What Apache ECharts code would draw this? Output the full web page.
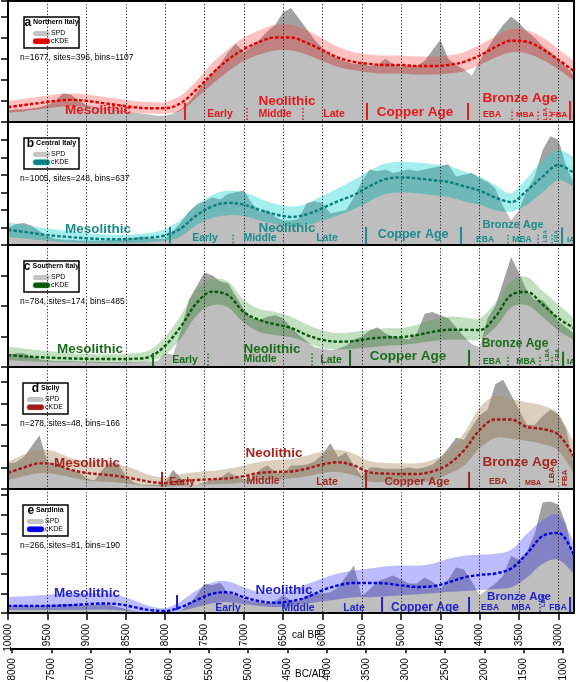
<!DOCTYPE html>
<html><head><meta charset="utf-8">
<script src="https://cdn.jsdelivr.net/npm/echarts@6/dist/echarts.min.js"></script>
<style>html,body{margin:0;padding:0;background:#fff}#c{width:576px;height:682px}</style>
</head><body><div id="c"></div>
<script>
// ---------- DATA ----------
const bp100 = [10000,9900,9800,9700,9600,9500,9400,9300,9200,9100,9000,8900,8800,8700,8600,8500,8400,8300,8200,8100,8000,7900,7800,7700,7600,7500,7400,7300,7200,7100,7000,6900,6800,6700,6600,6500,6400,6300,6200,6100,6000,5900,5800,5700,5600,5500,5400,5300,5200,5100,5000,4900,4800,4700,4600,4500,4400,4300,4200,4100,4000,3900,3800,3700,3600,3500,3400,3300,3200,3100,3000,2900,2800];
const bp200 = [10000,9800,9600,9400,9200,9000,8800,8600,8400,8200,8000,7800,7600,7400,7200,7000,6800,6600,6400,6200,6000,5800,5600,5400,5200,5000,4800,4600,4400,4200,4000,3800,3600,3400,3200,3000,2800];

// a Northern Italy
const spdA = [0.55,0.6,0.6,0.65,0.7,0.8,1.0,1.35,1.3,1.0, 0.8,0.7,0.65,0.6,0.55,0.5,0.45,0.4,0.35,0.3, 0.3,0.4,0.6,0.95,1.4,1.9,2.3,2.75,3.3,3.7, 3.3,3.6,3.9,4.3,4.6,5.2,5.4,4.9,4.4,3.9, 3.5,3.2,3.0,2.85,2.75,2.8,2.65,2.7,3.0,2.75, 2.6,2.7,2.65,2.9,3.4,3.9,3.0,2.7,2.5,2.2, 2.9,3.5,4.1,4.6,5.0,4.7,4.3,4.0,3.6,3.3, 3.0,2.6,2.2];
const meanA = [0.7,0.8,0.9,1.0,1.05,1.0,0.9,0.8,0.7,0.65, 0.65,0.9,1.55,2.3,2.95,3.45,3.8,4.0,4.0,3.75, 3.4,3.05,2.85,2.75,2.7,2.7,2.65,2.65,2.7,2.85, 3.15,3.55,3.85,3.8,3.45,2.95,2.4];
const loA = [0.45,0.5,0.6,0.7,0.75,0.7,0.6,0.5,0.45,0.4, 0.4,0.55,1.15,1.8,2.4,2.9,3.2,3.4,3.4,3.2, 2.9,2.6,2.45,2.35,2.3,2.3,2.25,2.25,2.3,2.4, 2.7,3.05,3.3,3.25,2.95,2.5,1.95];
const hiA = [1.0,1.1,1.2,1.3,1.35,1.3,1.2,1.1,1.0,0.95, 0.95,1.25,1.95,2.8,3.45,4.0,4.35,4.6,4.6,4.35, 3.95,3.55,3.3,3.2,3.15,3.15,3.1,3.1,3.15,3.3, 3.65,4.05,4.4,4.35,4.0,3.45,2.9];

// b Central Italy
const spdB = [1.0,1.2,1.25,1.1,0.8,0.5,0.35,0.3,0.3,0.25, 0.25,0.25,0.25,0.3,0.3,0.35,0.4,0.5,0.4,0.35, 0.35,0.8,1.3,1.9,2.3,2.5,2.7,2.6,2.9,3.0, 3.1,2.4,1.9,2.0,1.6,1.4,1.4,1.5,2.4,2.5, 2.4,1.8,1.9,2.0,2.7,3.6,4.3,4.2,4.3,4.1, 4.2,4.3,4.2,4.3,4.4,4.5,4.6,3.9,4.0,4.1, 3.8,3.6,3.2,2.2,1.4,2.0,3.1,3.9,5.4,6.2, 6.0,4.5,3.5];
const meanB = [0.86,0.75,0.62,0.52,0.45,0.38,0.34,0.33,0.35,0.42, 0.55,0.95,1.7,2.2,2.4,2.3,2.0,1.75,1.6,1.75, 2.1,2.5,2.85,3.35,3.75,3.85,3.8,3.7,3.6,3.35, 3.1,2.7,2.45,3.1,3.9,4.55,4.1];
const loB = [0.46,0.38,0.28,0.2,0.15,0.12,0.1,0.1,0.12,0.16, 0.25,0.5,1.15,1.55,1.7,1.65,1.4,1.2,1.05,1.15, 1.4,1.7,2.05,2.5,2.9,3.0,2.95,2.85,2.75,2.5, 2.3,2.0,1.9,2.3,3.0,3.7,3.3];
const hiB = [1.3,1.15,1.0,0.88,0.78,0.68,0.6,0.58,0.6,0.7, 0.9,1.45,2.3,2.85,3.1,3.0,2.65,2.35,2.2,2.35, 2.8,3.25,3.7,4.25,4.65,4.75,4.7,4.6,4.5,4.2, 3.9,3.4,2.95,3.8,4.8,5.4,5.0];

// c Southern Italy
const spdC = [0.4,0.45,0.45,0.35,0.25,0.22,0.2,0.2,0.2,0.18, 0.18,0.17,0.16,0.16,0.16,0.16,0.16,0.17,0.18,0.2, 0.45,0.4,1.2,2.2,2.65,3.1,3.0,2.8,2.75,2.3, 1.9,1.6,1.55,1.65,1.7,1.6,1.3,1.05,0.85,0.65, 0.6,0.55,0.6,0.7,0.9,1.0,1.2,1.3,1.1,1.0, 0.95,0.9,1.1,1.75,1.8,1.7,1.6,1.3,1.0,0.75, 0.65,1.6,2.0,2.8,3.6,3.1,2.5,2.2,2.2,1.9, 1.5,1.3,1.1];
const meanC = [0.39,0.35,0.32,0.3,0.28,0.27,0.26,0.26,0.27,0.33, 0.7,1.33,2.1,2.47,2.35,1.8,1.54,1.4,1.28,1.05, 0.89,0.83,0.85,0.93,0.97,0.98,1.05,1.15,1.22,1.22, 1.21,1.65,2.36,2.46,2.05,1.6,1.28];
const loC = [0.23,0.2,0.18,0.17,0.16,0.15,0.14,0.14,0.15,0.2, 0.4,0.95,1.7,2.03,1.95,1.45,1.15,1.05,0.98,0.8, 0.62,0.58,0.6,0.65,0.7,0.72,0.78,0.85,0.9,0.9, 0.9,1.3,1.95,2.03,1.65,1.2,0.89];
const hiC = [0.66,0.6,0.55,0.5,0.45,0.43,0.42,0.42,0.45,0.55, 1.0,1.7,2.55,2.88,2.8,2.2,1.9,1.8,1.65,1.4, 1.2,1.12,1.15,1.22,1.27,1.28,1.38,1.55,1.65,1.62, 1.6,2.1,2.8,2.95,2.5,2.05,1.6];

// d Sicily
const spdD = [1.2,1.25,1.5,2.0,2.5,1.3,1.1,1.0,0.9,0.8, 0.5,0.4,0.9,1.25,1.2,0.6,0.3,0.2,0.2,0.2, 0.3,0.9,0.5,0.2,0.2,0.3,0.45,0.5,0.8,0.6, 0.45,0.45,0.9,1.1,0.8,0.7,1.1,1.1,1.15,1.3, 1.6,2.15,1.5,1.7,1.1,0.6,1.0,1.0,0.95,0.95, 0.95,1.0,0.95,1.0,1.15,1.45,1.9,2.4,2.3,2.9, 3.45,3.7,4.9,5.1,4.4,3.7,3.0,3.0,3.4,3.7, 3.5,2.8,1.1];
const meanD = [0.75,1.0,1.2,1.15,0.9,0.75,0.68,0.6,0.48,0.34, 0.28,0.36,0.42,0.46,0.5,0.6,0.75,0.8,0.82,0.95, 1.15,1.25,1.1,0.78,0.72,0.7,0.7,0.82,1.15,1.8, 2.76,3.25,3.25,2.9,2.8,2.55,1.5];
const loD = [0.42,0.6,0.75,0.7,0.55,0.4,0.35,0.3,0.22,0.14, 0.12,0.15,0.2,0.22,0.25,0.3,0.42,0.45,0.5,0.6, 0.75,0.8,0.65,0.35,0.33,0.33,0.33,0.4,0.7,1.1, 1.92,2.4,2.35,2.25,2.1,1.8,0.75];
const hiD = [1.27,1.6,1.85,1.75,1.45,1.3,1.25,1.15,0.95,0.65, 0.55,0.7,0.8,0.85,0.95,1.1,1.27,1.35,1.4,1.55, 1.75,1.83,1.65,1.3,1.22,1.2,1.2,1.35,1.75,2.6, 3.8,4.35,4.2,4.05,3.9,3.5,2.15];

// e Sardinia
const spdE = [0.35,0.4,0.4,0.35,0.35,0.4,0.4,0.45,0.45,0.4, 0.4,0.4,0.45,0.4,0.3,0.2,0.1,0.05,0.05,0.05, 0.05,0.05,0.1,0.45,0.9,1.5,1.4,1.55,1.0,0.9, 0.7,0.6,0.55,0.5,0.6,0.9,0.65,0.6,0.9,1.0, 1.0,1.05,1.3,1.85,2.4,0.85,1.2,1.6,1.75,1.9, 1.7,1.5,1.5,1.8,1.6,1.2,1.7,2.3,2.2,1.6, 0.9,1.2,1.5,1.9,2.9,2.7,3.1,4.0,5.6,5.65, 5.5,4.5,2.6];
const meanE = [0.36,0.36,0.36,0.37,0.4,0.45,0.48,0.45,0.3,0.15, 0.1,0.3,0.65,0.98,1.05,0.8,0.6,0.52,0.6,0.8, 1.15,1.4,1.52,1.52,1.5,1.4,1.32,1.35,1.55,1.8, 1.93,2.0,2.25,3.0,3.9,4.06,2.9];
const loE = [0.15,0.15,0.15,0.15,0.15,0.17,0.18,0.15,0.08,0.03, 0.02,0.1,0.3,0.5,0.55,0.45,0.35,0.3,0.35,0.5, 0.6,0.7,0.8,0.8,0.85,0.9,0.95,1.0,1.07,1.12, 1.17,1.22,1.3,1.8,2.5,2.7,2.0];
const hiE = [0.81,0.85,0.9,0.95,1.0,1.0,1.0,0.9,0.65,0.35, 0.25,0.6,1.15,1.55,1.6,1.3,1.05,1.0,1.15,1.45, 1.75,2.0,2.15,2.25,2.35,2.4,2.4,2.5,2.75,2.9, 2.95,3.0,3.2,4.0,4.7,4.95,3.6];

// ---------- ANNOTATIONS (period names: text, cal BP, height, size, rotated) ----------
const labelsA = [['Mesolithic',8855,0.57,13.5,0],['Early',7303,0.38,10.5,0],['Neolithic',6450,1.0,13.5,0],['Middle',6603,0.38,10.5,0],['Late',5852,0.38,10.5,0],['Copper Age',4822,0.48,13.5,0],['Bronze Age',3486,1.1,13.5,0],['EBA',3842,0.33,8.5,0],['MBA',3422,0.33,8,0],['LBA',3168,0.38,6,1],['FBA',2990,0.33,8,0]];
const barsA = [[7748,0.1,0.9],[5433,0.1,0.9],[4148,0.1,0.9],[2850,0.1,1.0]];
const sepsA = [[6959,0.1,0.75],[6247,0.1,0.75],[3588,0.1,0.6],[3257,0.1,0.6],[3104,0.1,0.6]];
const labelsB = [['Mesolithic',8855,0.91,13.5,0],['Early',7494,0.4,10.5,0],['Middle',6794,0.4,10.5,0],['Neolithic',6450,0.97,13.5,0],['Late',5942,0.4,10.5,0],['Copper Age',4847,0.57,12.5,0],['Bronze Age',3575,1.14,11,0],['EBA',3931,0.29,8.5,0],['MBA',3461,0.29,8.5,0],['LBA',3168,0.5,6,1],['FBA',3028,0.5,6,1],['IA',2837,0.29,8,0]];
const barsB = [[7939,0.1,1.03],[5445,0,1.03],[4237,0,1.03],[2952,0,1.0]];
const sepsB = [[7137,0.1,0.7],[3639,0.1,0.6],[3257,0.1,0.6],[3079,0.1,0.6]];
const labelsC = [['Mesolithic',8957,0.59,13.5,0],['Early',7748,0.23,10.5,0],['Neolithic',6641,0.59,13.5,0],['Middle',6794,0.26,10.5,0],['Late',5891,0.23,10.5,0],['Copper Age',4911,0.36,13.5,0],['Bronze Age',3550,0.75,12,0],['EBA',3842,0.16,8.5,0],['MBA',3410,0.16,8.5,0],['LBA',3142,0.39,6,1],['FBA',3015,0.39,6,1],['IA',2837,0.16,8,0]];
const barsC = [[8155,0,0.46],[5649,0,0.56],[4135,0,0.56],[2939,0,0.5]];
const sepsC = [[7455,0.05,0.45],[6132,0.05,0.45],[3639,0.05,0.4],[3232,0.05,0.4],[3079,0.05,0.4]];
const labelsD = [['Mesolithic',8995,1.22,13.5,0],['Early',7786,0.33,10.5,0],['Neolithic',6616,1.69,13.5,0],['Middle',6756,0.38,10.5,0],['Late',5942,0.33,10.5,0],['Copper Age',4796,0.33,11.5,0],['Bronze Age',3486,1.27,13.5,0],['EBA',3766,0.33,8.5,0],['MBA',3321,0.28,7,0],['LBA',3079,0.66,8,1],['FBA',2913,0.52,8,1]];
const barsD = [[8041,0.1,0.8],[5445,0,0.8],[4135,0,0.8]];
const sepsD = [];
const labelsE = [['Mesolithic',8995,1.02,13.5,0],['Early',7201,0.25,10.5,0],['Neolithic',6489,1.17,13.5,0],['Middle',6310,0.25,10.5,0],['Late',5598,0.25,10.5,0],['Copper Age',4695,0.25,12,0],['Bronze Age',3499,0.81,11.5,0],['EBA',3868,0.25,8.5,0],['MBA',3473,0.25,8.5,0],['LBA',3193,0.61,6,1],['FBA',3003,0.25,8.5,0]];
const barsE = [[7850,0.15,0.91],[5242,0,0.81],[4135,0,0.81],[2850,0,0.81]];
const sepsE = [[3232,0.05,0.6]];

// ---------- LAYOUT / STYLE ----------
const FONT = '"Liberation Sans", Arial, Helvetica, sans-serif';
const panels = [
 {top:1,   height:121, ymax:5.73, spd:spdA, lo:loA, hi:hiA, mean:meanA, line:'#e00000', band:'rgba(255,60,60,0.32)', txt:'#e3191c', letter:'a', region:'Northern Italy', stats:'n=1677, sites=396, bins=1107', boxW:55, labels:labelsA, bars:barsA, seps:sepsA},
 {top:122, height:123, ymax:7.01, spd:spdB, lo:loB, hi:hiB, mean:meanB, line:'#0d7d7d', band:'rgba(40,215,215,0.42)', txt:'#1c8c8c', letter:'b', region:'Central Italy', stats:'n=1005, sites=248, bins=637', boxW:55, labels:labelsB, bars:barsB, seps:sepsB},
 {top:245, height:122, ymax:4.0,  spd:spdC, lo:loC, hi:hiC, mean:meanC, line:'#0b570b', band:'rgba(80,170,80,0.36)', txt:'#1a6e1a', letter:'c', region:'Southern Italy', stats:'n=784, sites=174, bins=485', boxW:55, labels:labelsC, bars:barsC, seps:sepsC},
 {top:367, height:122, ymax:5.7,  spd:spdD, lo:loD, hi:hiD, mean:meanD, line:'#a11a1a', band:'rgba(175,140,100,0.42)', txt:'#a3261f', letter:'d', region:'Sicily', stats:'n=278, sites=48, bins=166', boxW:45, labels:labelsD, bars:barsD, seps:sepsD},
 {top:489, height:124, ymax:6.28, spd:spdE, lo:loE, hi:hiE, mean:meanE, line:'#0000e0', band:'rgba(80,80,255,0.38)', txt:'#2222cc', letter:'e', region:'Sardinia', stats:'n=266, sites=81, bins=190', boxW:45, labels:labelsE, bars:barsE, seps:sepsE}
];

// Catmull-Rom curve through pixel points (drawing helper only)
function crPath(pts) {
  let s = '';
  for (let i = 0; i < pts.length - 1; i++) {
    const p0 = pts[i - 1] || pts[i], p1 = pts[i], p2 = pts[i + 1], p3 = pts[i + 2] || pts[i + 1];
    const c1x = p1[0] + (p2[0] - p0[0]) / 6, c1y = p1[1] + (p2[1] - p0[1]) / 6;
    const c2x = p2[0] - (p3[0] - p1[0]) / 6, c2y = p2[1] - (p3[1] - p1[1]) / 6;
    s += 'C' + c1x.toFixed(2) + ',' + c1y.toFixed(2) + ' ' + c2x.toFixed(2) + ',' + c2y.toFixed(2) + ' ' + p2[0].toFixed(2) + ',' + p2[1].toFixed(2);
  }
  return s;
}

const grid = [], xAxis = [], yAxis = [], series = [], graphic = [];
panels.forEach((p, i) => {
  const last = i === panels.length - 1;
  grid.push({left:8, right:2, top:p.top, height:p.height, show:true, borderColor:'#000', borderWidth:2, z:10});
  xAxis.push({gridIndex:i, type:'value', min:-10000, max:-2800, interval:500, z:3,
    axisLine:{show:true, lineStyle:{color:'#000', width:2}},
    axisTick:{show:last, length:7, lineStyle:{color:'#000', width:1.5}},
    axisLabel:{show:last, rotate:90, margin:11, fontSize:10, color:'#000', fontFamily:FONT, showMaxLabel:false, formatter:v => String(-v)},
    splitLine:{show:true, lineStyle:{color:'#222', width:1, type:[1.2,2]}}});
  yAxis.push({gridIndex:i, type:'value', min:0, max:p.ymax, interval:1,
    axisLine:{show:true, lineStyle:{color:'#000', width:2}},
    axisTick:{show:true, inside:false, length:7, lineStyle:{color:'#000', width:1.5}},
    axisLabel:{show:false}, splitLine:{show:false}});
  // SPD
  series.push({type:'line', xAxisIndex:i, yAxisIndex:i, z:1, silent:true, showSymbol:false, symbol:'none',
    data: bp100.map((b, k) => [-b, p.spd[k]]),
    lineStyle:{width:0, opacity:0}, areaStyle:{color:'#a2a2a2', opacity:1}});
  // cKDE envelope (and lighter SPD below the envelope)
  series.push({type:'custom', xAxisIndex:i, yAxisIndex:i, z:2, silent:true, clip:true,
    data: bp200.map((b, k) => [-b, p.lo[k], p.hi[k]]),
    encode:{x:0, y:[1, 2]},
    renderItem:(params, api) => {
      if (params.dataIndex !== 0) return null;
      const up = bp200.map((b, k) => api.coord([-b, p.hi[k]]));
      const dn = bp200.map((b, k) => api.coord([-b, p.lo[k]]));
      const b0 = api.coord([-10000, 0]), b1 = api.coord([-2800, 0]);
      const dr = dn.slice().reverse();
      const band = 'M' + up[0][0] + ',' + up[0][1] + crPath(up) + 'L' + dr[0][0] + ',' + dr[0][1] + crPath(dr) + 'Z';
      const low = 'M' + dn[0][0] + ',' + dn[0][1] + crPath(dn) + 'L' + b1[0] + ',' + b1[1] + 'L' + b0[0] + ',' + b0[1] + 'Z';
      return {type:'group', children:[
        {type:'path', shape:{pathData:low}, style:{fill:'rgba(255,255,255,0.3)'}},
        {type:'path', shape:{pathData:band}, style:{fill:p.band}}
      ]};
    }});
  // mean cKDE
  series.push({type:'line', xAxisIndex:i, yAxisIndex:i, z:4, silent:true, showSymbol:false, symbol:'none', smooth:0.35,
    data: bp200.map((b, k) => [-b, p.mean[k]]),
    lineStyle:{color:p.line, width:2.4, type:[3.5,2]}});
  // period annotations
  series.push({type:'custom', xAxisIndex:i, yAxisIndex:i, z:6, silent:true, clip:false,
    data:[[-6000, 1]],
    renderItem:(params, api) => {
      const ch = [];
      p.labels.forEach(([t, bp, v, s, r]) => {
        const c = api.coord([-bp, v]);
        ch.push({type:'text', x:c[0], y:c[1], rotation: r ? Math.PI/2 : 0,
          style:{text:t, fill:p.txt, font:'bold ' + s + 'px ' + FONT, align:'center', verticalAlign:'middle'}});
      });
      p.bars.forEach(([bp, v0, v1]) => {
        const a = api.coord([-bp, v0]), b = api.coord([-bp, v1]);
        ch.push({type:'line', shape:{x1:a[0], y1:a[1], x2:b[0], y2:b[1]}, style:{stroke:p.txt, lineWidth:2}});
      });
      p.seps.forEach(([bp, v0, v1]) => {
        const a = api.coord([-bp, v0]), b = api.coord([-bp, v1]);
        ch.push({type:'line', shape:{x1:a[0], y1:a[1], x2:b[0], y2:b[1]}, style:{stroke:p.txt, lineWidth:1.5, lineDash:[1.5,2]}});
      });
      return {type:'group', children:ch};
    }});
  // legend box
  const sx = p.boxW > 50 ? 9 : 4;
  graphic.push({type:'group', x:p.boxW > 50 ? 24 : 23, y:p.top + 16, z:20, children:[
    {type:'rect', shape:{x:0, y:0, width:p.boxW, height:31}, style:{fill:'#fff', stroke:'#000', lineWidth:1.5}},
    {type:'text', x:p.boxW/2, y:5.5, style:{text:'{l|' + p.letter + '}{n| ' + p.region + '}', align:'center', verticalAlign:'middle',
      rich:{l:{font:'bold 12px ' + FONT, fill:'#000'}, n:{font:'bold 7px ' + FONT, fill:'#000'}}}},
    {type:'rect', shape:{x:sx, y:14, width:17, height:5, r:2.5}, style:{fill:'#c4c4c4'}},
    {type:'text', x:sx + 18, y:16.5, style:{text:'SPD', font:'7px ' + FONT, fill:'#000', verticalAlign:'middle'}},
    {type:'rect', shape:{x:sx, y:21.5, width:17, height:5.5, r:2.75}, style:{fill:p.line, stroke:p.band, lineWidth:1.2}},
    {type:'text', x:sx + 18, y:24.5, style:{text:'cKDE', font:'7px ' + FONT, fill:'#000', verticalAlign:'middle'}}
  ]});
  graphic.push({type:'text', x:20, y:p.top + 56.5, z:20, style:{text:p.stats, font:'8.5px ' + FONT, fill:'#000', verticalAlign:'middle'}});
});

// BC/AD axis
grid.push({left:12, right:13, top:648, height:1, show:false});
xAxis.push({gridIndex:5, type:'value', min:-8000, max:-1000, interval:500,
  axisLine:{show:true, lineStyle:{color:'#000', width:2}},
  axisTick:{show:true, length:5, lineStyle:{color:'#000', width:1.5}},
  axisLabel:{show:true, rotate:90, margin:10, fontSize:10, color:'#000', fontFamily:FONT, formatter:v => String(-v)},
  splitLine:{show:false}});
yAxis.push({gridIndex:5, type:'value', show:false});
graphic.push({type:'text', x:292, y:635, style:{text:'cal BP', font:'10px ' + FONT, fill:'#000', verticalAlign:'middle'}});
graphic.push({type:'text', x:295, y:674, style:{text:'BC/AD', font:'10px ' + FONT, fill:'#000', verticalAlign:'middle'}});

const chart = echarts.init(document.getElementById('c'));
chart.setOption({animation:false, backgroundColor:'#fff', grid, xAxis, yAxis, series, graphic});
</script>
</body></html>
